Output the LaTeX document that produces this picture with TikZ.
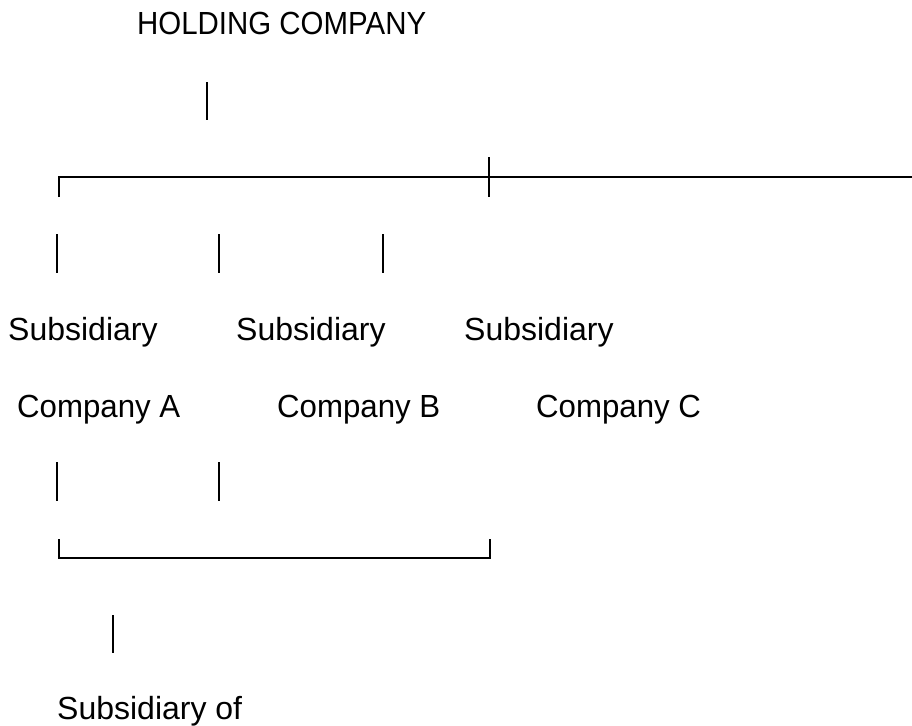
\documentclass[tikz,border=0pt]{standalone}
\usepackage{fontspec}
\setmainfont{Liberation Sans}
\begin{document}
\begin{tikzpicture}[x=1pt,y=-1pt,
  lbl/.style={anchor=base west,inner sep=0pt,font=\fontsize{32}{36}\selectfont},
  rule/.style={line width=2.6pt,black}]
\useasboundingbox (0,0) rectangle (912,725);

% labels
\node[lbl,xscale=0.92] (hold) at (137,35) {HOLDING COMPANY};
\node[lbl] (sa1) at (8,340) {Subsidiary};
\node[lbl] (sb1) at (236,340) {Subsidiary};
\node[lbl] (sc1) at (464,340) {Subsidiary};
\node[lbl,xscale=0.975] (sa2) at (17,417) {Company A};
\node[lbl,xscale=0.975] (sb2) at (277,417) {Company B};
\node[lbl,xscale=0.975] (sc2) at (536,417) {Company C};
\node[lbl] (sub) at (57,719) {Subsidiary of};

% stem under the holding company
\draw[rule] (207,82) -- (207,120);

% upper bracket with its crossing tick
\draw[rule] (59,197) -- (59,177) -- (912,177);
\draw[rule] (489,157) -- (489,197);

% bars above the subsidiaries
\foreach \x in {57,219,383} \draw[rule] (\x,234) -- (\x,273);

% bars below the subsidiaries
\foreach \x in {57,219} \draw[rule] (\x,462) -- (\x,501);

% lower bracket
\draw[rule] (59,539) -- (59,558) -- (490,558) -- (490,539);

% stem to the lowest subsidiary
\draw[rule] (113,615) -- (113,653);
\end{tikzpicture}
\end{document}
